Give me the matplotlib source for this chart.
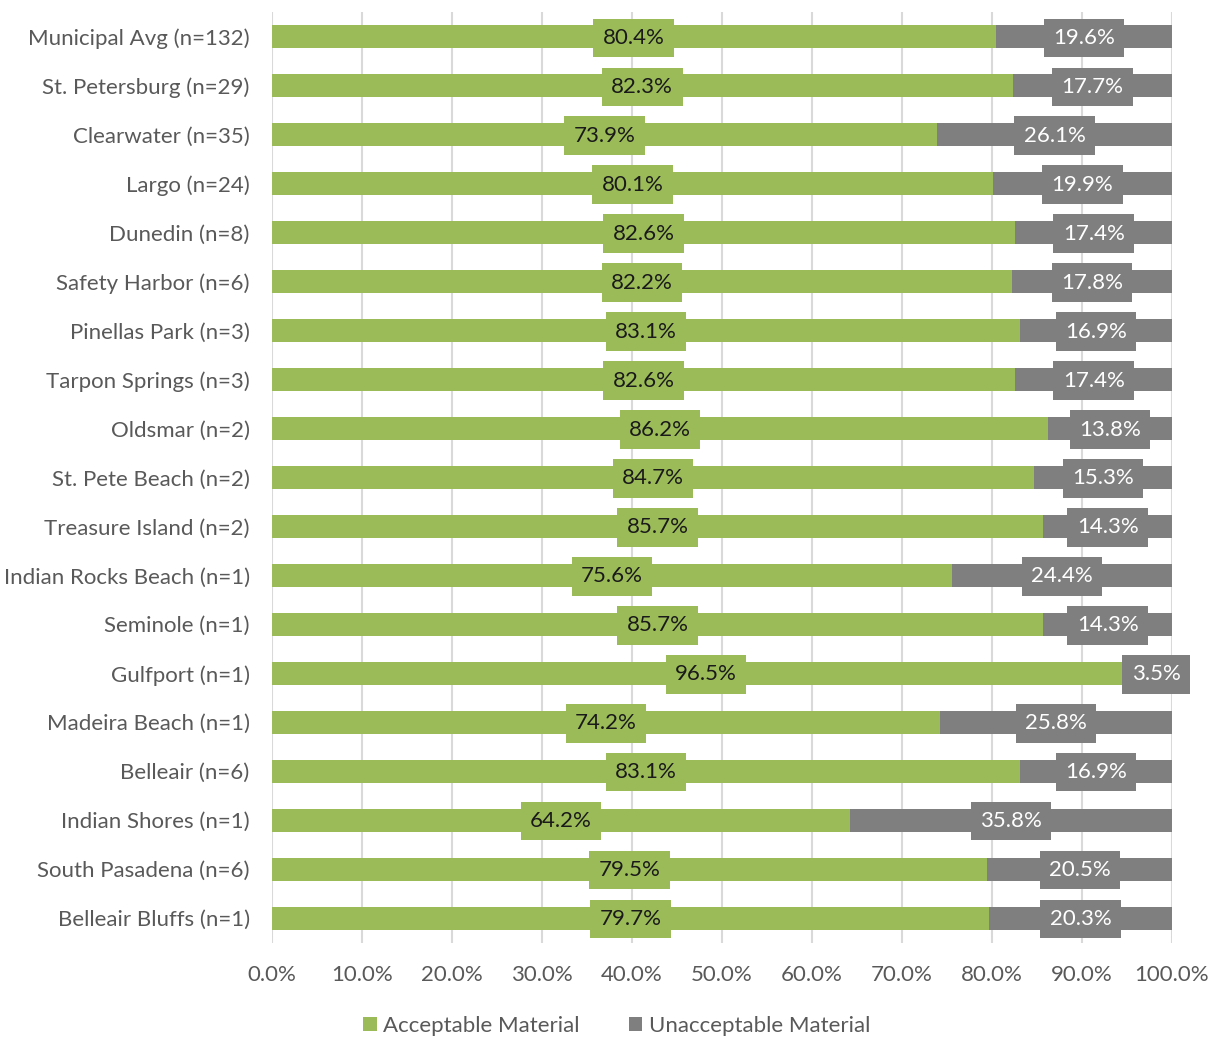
import matplotlib.pyplot as plt
import numpy as np

plt.rcParams['font.family'] = ['Lato', 'DejaVu Sans']

cities = ['Municipal Avg (n=132)', 'St. Petersburg (n=29)', 'Clearwater (n=35)',
          'Largo (n=24)', 'Dunedin (n=8)', 'Safety Harbor (n=6)', 'Pinellas Park (n=3)',
          'Tarpon Springs (n=3)', 'Oldsmar (n=2)', 'St. Pete Beach (n=2)',
          'Treasure Island (n=2)', 'Indian Rocks Beach (n=1)', 'Seminole (n=1)',
          'Gulfport (n=1)', 'Madeira Beach (n=1)', 'Belleair (n=6)',
          'Indian Shores (n=1)', 'South Pasadena (n=6)', 'Belleair Bluffs (n=1)']
acceptable = [80.4, 82.3, 73.9, 80.1, 82.6, 82.2, 83.1, 82.6, 86.2, 84.7,
              85.7, 75.6, 85.7, 96.5, 74.2, 83.1, 64.2, 79.5, 79.7]
unacceptable = [19.6, 17.7, 26.1, 19.9, 17.4, 17.8, 16.9, 17.4, 13.8, 15.3,
                14.3, 24.4, 14.3, 3.5, 25.8, 16.9, 35.8, 20.5, 20.3]

green = '#9BBB59'
gray = '#7F7F7F'
fs = 16

fig = plt.figure(figsize=(12.14, 10.38), dpi=100)
ax = fig.add_axes([0.224, 0.092, 0.7414, 0.896])

y = np.arange(len(cities))
h = 0.47
ax.barh(y, acceptable, height=h, color=green, label='Acceptable Material', zorder=2)
ax.barh(y, unacceptable, left=acceptable, height=h, color=gray,
        label='Unacceptable Material', zorder=2)

# data labels in boxes like Excel
for i in range(len(cities)):
    a = acceptable[i]
    u = unacceptable[i]
    ax.text(a / 2, i + 0.02, f'{a:.1f}%', ha='center', va='center', fontsize=fs,
            color='#1a1a1a', zorder=3,
            bbox=dict(boxstyle='square,pad=0.42', fc=green, ec='none'))
    ax.text(a + u / 2, i + 0.02, f'{u:.1f}%', ha='center', va='center', fontsize=fs,
            color='white', zorder=3,
            bbox=dict(boxstyle='square,pad=0.42', fc=gray, ec='none'))

ax.set_ylim(len(cities) - 0.5, -0.5)
ax.set_xlim(0, 100)
ax.set_xticks(np.arange(0, 101, 10))
ax.set_xticklabels([f'{v:.1f}%' for v in range(0, 101, 10)])
ax.set_yticks(y)
ax.set_yticklabels(cities)
ax.tick_params(axis='both', length=0, labelsize=fs, colors='#595959')
ax.tick_params(axis='x', pad=16)
ax.tick_params(axis='y', pad=16)
ax.grid(axis='x', color='#D9D9D9', linewidth=1.5, zorder=0)
ax.set_axisbelow(True)
for s in ax.spines.values():
    s.set_visible(False)

fig.legend(loc='center', bbox_to_anchor=(0.508, 0.012), ncol=2, frameon=False,
           fontsize=fs, handlelength=0.6, handleheight=0.6, columnspacing=2.2,
           handletextpad=0.3, labelcolor='#595959')

fig.savefig('out.png', dpi=100)
